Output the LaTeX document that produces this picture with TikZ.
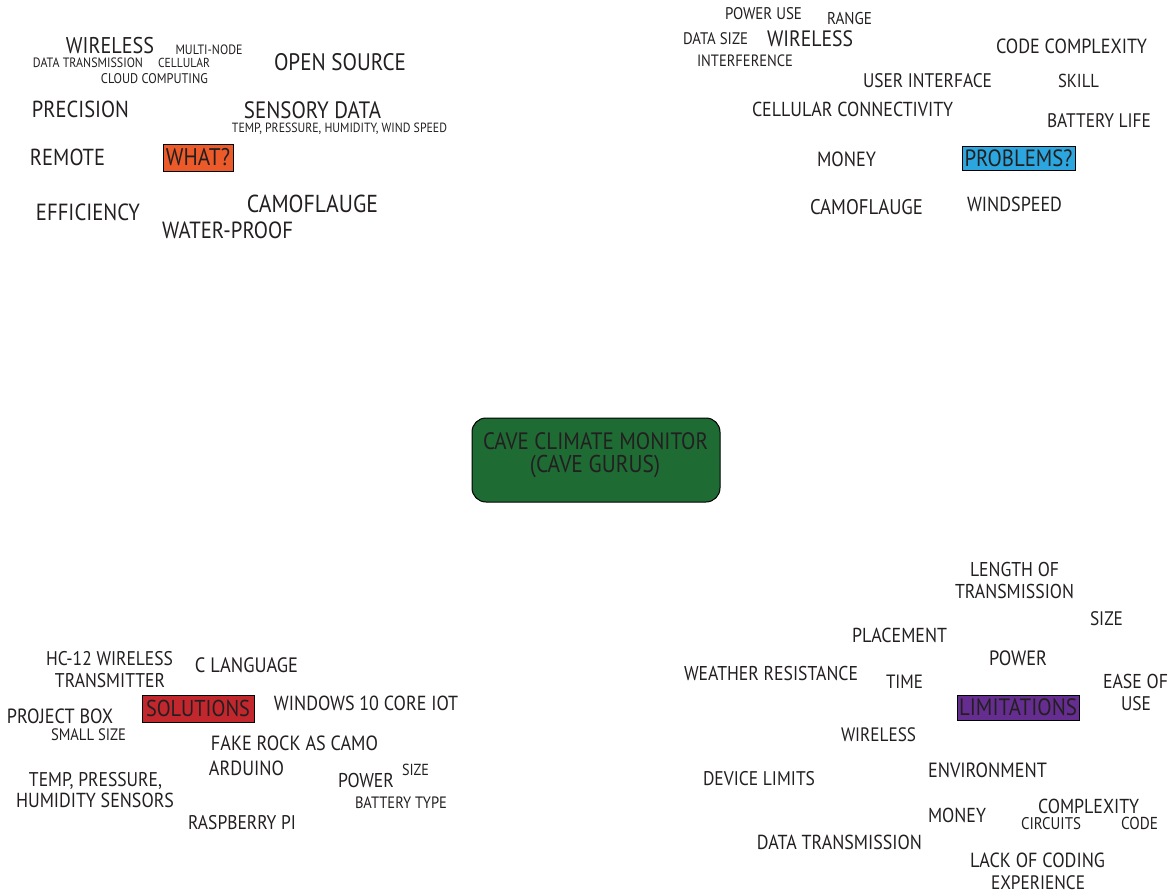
\documentclass[tikz,border=0pt]{standalone}
\usepackage{fontspec}
\setmainfont{PT Sans}
\usepackage{graphicx}
\definecolor{ink}{HTML}{231F20}
\definecolor{whatorange}{HTML}{EB5A28}
\definecolor{probblue}{HTML}{2BA6DE}
\definecolor{solred}{HTML}{C1272D}
\definecolor{limpurple}{HTML}{662D91}
\definecolor{cavegreen}{HTML}{1E6B33}
\newcommand\fw[2]{\scalebox{1}[1.13]{\resizebox{#1pt}{!}{#2}}}
\begin{document}
\begin{tikzpicture}[x=1pt,y=-1pt,
  lbl/.style={inner sep=0pt, outer sep=0pt, text=ink},
  tag/.style={draw=black, line width=0.8pt, inner sep=0pt, text=ink},
  hub/.style={draw=black, line width=1pt, fill=cavegreen, rounded corners=14pt, minimum width=248pt, minimum height=84pt}]
\useasboundingbox (0,0) rectangle (1175,894);

% ---------------- WHAT? (top left)
\node[tag, fill=whatorange, minimum width=70pt, minimum height=27pt] (what) at (198,157.5) {\fw{64}{WHAT?}};
\node[lbl] (tlwireless) at (110,45.5) {\fw{88}{WIRELESS}};
\node[lbl] (tlmulti) at (209,50) {\fw{67}{MULTI-NODE}};
\node[lbl] (tldata) at (88,63) {\fw{110}{DATA TRANSMISSION}};
\node[lbl] (tlcell) at (184,63) {\fw{52}{CELLULAR}};
\node[lbl] (tlcloud) at (154.5,79) {\fw{107}{CLOUD COMPUTING}};
\node[lbl] (tlopen) at (340,62) {\fw{132}{OPEN SOURCE}};
\node[lbl] (tlprec) at (80.5,109.5) {\fw{97}{PRECISION}};
\node[lbl] (tlsens) at (312.5,110) {\fw{137}{SENSORY DATA}};
\node[lbl] (tltemp) at (339.5,129) {\fw{215}{TEMP, PRESSURE, HUMIDITY, WIND SPEED}};
\node[lbl] (tlremote) at (67.5,157.5) {\fw{75}{REMOTE}};
\node[lbl] (tleff) at (88,212.5) {\fw{104}{EFFICIENCY}};
\node[lbl] (tlcamo) at (312.5,203.5) {\fw{131}{CAMOFLAUGE}};
\node[lbl] (tlwater) at (227.5,230.5) {\fw{131}{WATER-PROOF}};

% ---------------- PROBLEMS? (top right)
\node[tag, fill=probblue, minimum width=113pt, minimum height=24pt] (prob) at (1018.5,158.5) {\fw{108}{PROBLEMS?}};
\node[lbl] (trpower) at (763.5,14) {\fw{77}{POWER USE}};
\node[lbl] (trrange) at (849.5,19) {\fw{45}{RANGE}};
\node[lbl] (trdsize) at (715.5,39) {\fw{65}{DATA SIZE}};
\node[lbl] (trwireless) at (810,38.5) {\fw{86}{WIRELESS}};
\node[lbl] (trinter) at (745,61) {\fw{96}{INTERFERENCE}};
\node[lbl] (trcode) at (1071.5,46) {\fw{151}{CODE COMPLEXITY}};
\node[lbl] (truser) at (927.5,80.5) {\fw{129}{USER INTERFACE}};
\node[lbl] (trskill) at (1078.5,81) {\fw{41}{SKILL}};
\node[lbl] (trcell) at (852.5,109.5) {\fw{201}{CELLULAR CONNECTIVITY}};
\node[lbl] (trbatt) at (1099,120.5) {\fw{104}{BATTERY LIFE}};
\node[lbl] (trmoney) at (846.5,159.5) {\fw{59}{MONEY}};
\node[lbl] (trcamo) at (866.5,207) {\fw{113}{CAMOFLAUGE}};
\node[lbl] (trwind) at (1014.5,204.5) {\fw{95}{WINDSPEED}};

% ---------------- centre
\node[hub] (cave) at (596,460) {};
\node[lbl] (cave1) at (595.5,441.5) {\fw{225}{CAVE CLIMATE MONITOR}};
\node[lbl] (cave2) at (595,467) {\fw{130}{(CAVE GURUS)}};

% ---------------- SOLUTIONS (bottom left)
\node[tag, fill=solred, minimum width=112pt, minimum height=27pt] (sol) at (198,708.5) {\fw{104}{SOLUTIONS}};
\node[lbl] (blhc1) at (109.5,659) {\fw{127}{HC-12 WIRELESS}};
\node[lbl] (blhc2) at (110,681) {\fw{110}{TRANSMITTER}};
\node[lbl] (blclang) at (246.5,665) {\fw{103}{C LANGUAGE}};
\node[lbl] (blwin) at (366,703.5) {\fw{184}{WINDOWS 10 CORE IOT}};
\node[lbl] (blproj) at (60,716.5) {\fw{106}{PROJECT BOX}};
\node[lbl] (blsmall) at (88.5,734.5) {\fw{75}{SMALL SIZE}};
\node[lbl] (blfake) at (294.5,743.5) {\fw{167}{FAKE ROCK AS CAMO}};
\node[lbl] (blard) at (246.5,768.5) {\fw{75}{ARDUINO}};
\node[lbl] (blpower) at (366,780) {\fw{56}{POWER}};
\node[lbl] (blsize) at (415.5,769.5) {\fw{27}{SIZE}};
\node[lbl] (bltemp1) at (95.5,781) {\fw{133}{TEMP, PRESSURE,}};
\node[lbl] (bltemp2) at (95,800) {\fw{158}{HUMIDITY SENSORS}};
\node[lbl] (blbatt) at (401,802.5) {\fw{92}{BATTERY TYPE}};
\node[lbl] (blrasp) at (242,823) {\fw{108}{RASPBERRY PI}};

% ---------------- LIMITATIONS (bottom right)
\node[tag, fill=limpurple, minimum width=122pt, minimum height=25pt] (lim) at (1018,707.5) {\fw{118}{LIMITATIONS}};
\node[lbl] (brlen1) at (1014.5,569) {\fw{89}{LENGTH OF}};
\node[lbl] (brlen2) at (1014.5,591) {\fw{119}{TRANSMISSION}};
\node[lbl] (brsize) at (1106.5,618.5) {\fw{33}{SIZE}};
\node[lbl] (brplace) at (899.5,635.5) {\fw{95}{PLACEMENT}};
\node[lbl] (brpower) at (1018,658.5) {\fw{58}{POWER}};
\node[lbl] (brweather) at (771,673.5) {\fw{174}{WEATHER RESISTANCE}};
\node[lbl] (brtime) at (904.5,681.5) {\fw{37}{TIME}};
\node[lbl] (brease1) at (1135.5,681) {\fw{65}{EASE OF}};
\node[lbl] (brease2) at (1136,703.5) {\fw{30}{USE}};
\node[lbl] (brwireless) at (878.5,734.5) {\fw{75}{WIRELESS}};
\node[lbl] (brenv) at (987.5,770) {\fw{119}{ENVIRONMENT}};
\node[lbl] (brdevice) at (759,778.5) {\fw{112}{DEVICE LIMITS}};
\node[lbl] (brcomplex) at (1088.5,806.5) {\fw{101}{COMPLEXITY}};
\node[lbl] (brmoney) at (957,815.5) {\fw{58}{MONEY}};
\node[lbl] (brcirc) at (1051,823.5) {\fw{60}{CIRCUITS}};
\node[lbl] (brcode) at (1139.5,823.5) {\fw{37}{CODE}};
\node[lbl] (brdata) at (839.5,842.5) {\fw{165}{DATA TRANSMISSION}};
\node[lbl] (brlack1) at (1037.5,860.5) {\fw{135}{LACK OF CODING}};
\node[lbl] (brlack2) at (1038,882.5) {\fw{94}{EXPERIENCE}};
\end{tikzpicture}
\end{document}
